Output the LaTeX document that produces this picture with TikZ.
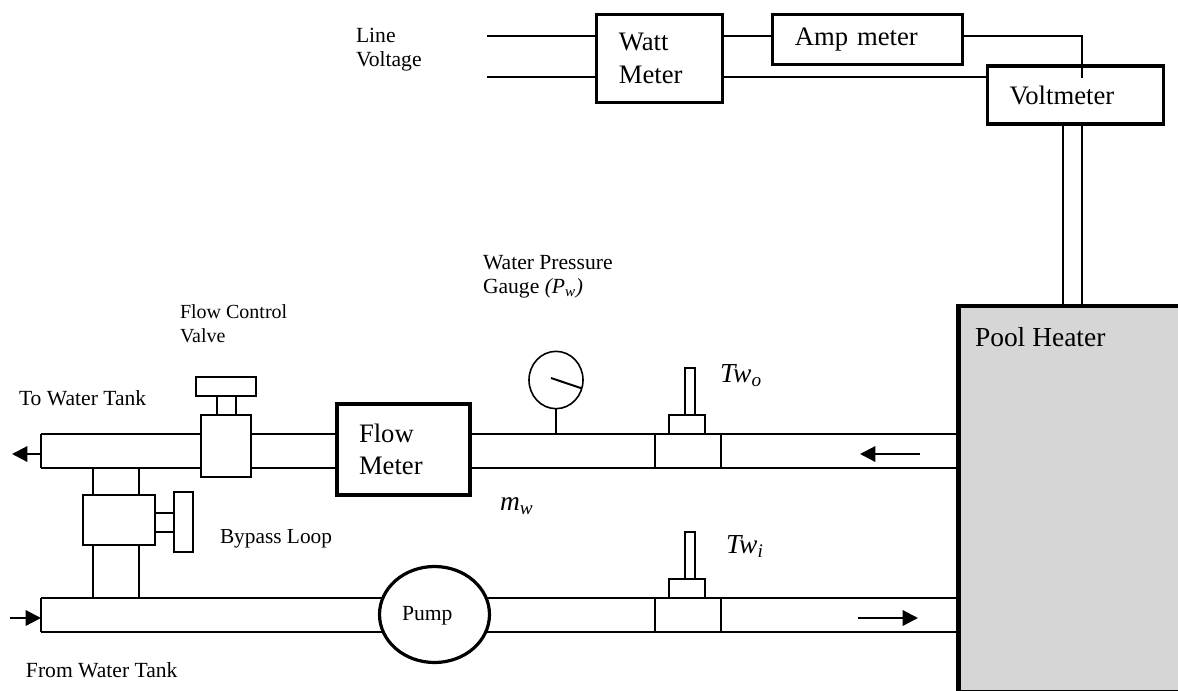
\documentclass[tikz,border=0pt]{standalone}
\usepackage{fontspec}
\setmainfont{Liberation Serif}
\usetikzlibrary{arrows.meta,shapes.geometric}
\begin{document}
\begin{tikzpicture}[x=0.75pt,y=-0.75pt,
        every node/.style={inner sep=0pt,outer sep=0pt},
        pipe/.style={line width=1.2pt},
        part/.style={draw,line width=1.2pt,fill=white},
        meter/.style={draw,line width=2.4pt,fill=white,font=\fontsize{20}{24.5}\selectfont,align=left,inner xsep=16.5pt},
        tag/.style={anchor=base west,align=left,font=\fontsize{16.2}{18}\selectfont},
        smalltag/.style={anchor=base west,align=left,font=\fontsize{15}{18}\selectfont},
        bigtag/.style={anchor=base west,font=\fontsize{20.6}{24}\selectfont},
        flow/.style={line width=1.7pt,-{Triangle[length=11.5pt,width=11.5pt]}}]
        \useasboundingbox (0,0) rectangle (1178,690);
        \node[draw,line width=3.6pt,fill=black!16,minimum width=174pt,minimum height=290pt,anchor=north west] (heater) at (958.5,306) {};
        \node[bigtag] (heatername) at (975,346) {Pool Heater};
        \node[meter,text width=61pt,minimum height=66.5pt] (watt) at (659.5,58.5) {Watt\\Meter};
        \node[meter,text width=109pt,minimum height=38pt] (amp) at (867.5,39.5) {Amp meter};
        \node[meter,text width=99pt,minimum height=43.5pt] (volt) at (1075.5,95) {Voltmeter};
        \coordinate (linea) at (487,36);
        \coordinate (lineb) at (487,77);
        \coordinate (voltin) at (1082,78);
        \coordinate (ventl) at (1063,306);
        \coordinate (ventr) at (1082,306);
        \draw[pipe] (linea) -- (linea -| watt.west);
        \draw[pipe] (lineb) -- (lineb -| watt.west);
        \draw[pipe] (linea -| watt.east) -- (linea -| amp.west);
        \draw[pipe] (lineb -| watt.east) -- (lineb -| volt.west);
        \draw[pipe] (linea -| amp.east) -- (linea -| voltin) -- (voltin);
        \draw[pipe] (ventl |- volt.south) -- (ventl);
        \draw[pipe] (ventr |- volt.south) -- (ventr);
        \node[tag] (linename) at (356,66) {Line\\Voltage};
        \node[tag] (gaugename) at (483,293) {Water Pressure\\Gauge \textit{(P\textsubscript{w})}};
        \node[smalltag] (valvename) at (180,342) {Flow Control\\Valve};
        \node[tag] (totank) at (19,405) {To Water Tank};
        \node[tag] (fromtank) at (26,677) {From Water Tank};
        \node[smalltag,font=\fontsize{16}{18}\selectfont] (bypassname) at (220,543) {Bypass Loop};
        \node[bigtag] (mw) at (500,510) {\textit{m\textsubscript{w}}};
        \node[bigtag] (two) at (720,382) {\textit{Tw\textsubscript{o}}};
        \node[bigtag] (twi) at (726,553) {\textit{Tw\textsubscript{i}}};
        \coordinate (outtop) at (41,434);
        \coordinate (outbot) at (41,468);
        \coordinate (intop) at (41,598);
        \coordinate (inbot) at (41,632);
        \node[part,minimum width=37.5pt,minimum height=46.5pt] (valve) at (226,446) {};
        \node[part,minimum width=14.25pt,minimum height=14.25pt] (valvestem) at (226.5,405.5) {};
        \node[part,minimum width=45pt,minimum height=14.25pt] (valvehandle) at (226,386.5) {};
        \node[meter,text width=66.75pt,minimum height=68.25pt] (flowmeter) at (403.5,449.5) {Flow\\Meter};
        \node[part,minimum width=54pt,minimum height=37.5pt] (bypass) at (119,520) {};
        \node[part,minimum width=14.25pt,minimum height=14.25pt] (bypassstem) at (164.5,522.5) {};
        \node[part,minimum width=14.25pt,minimum height=45pt] (bypasshandle) at (183.5,522) {};
        \node[ellipse,draw,line width=2.4pt,fill=white,minimum width=82.5pt,minimum height=72pt] (pump) at (434.5,614.5) {};
        \node[tag] (pumpname) at (402,620) {Pump};
        \node[ellipse,part,minimum width=40.5pt,minimum height=43pt] (gauge) at (556,380) {};
        \node[part,minimum width=49.5pt,minimum height=25.5pt] (bandout) at (688,451) {};
        \node[part,minimum width=27pt,minimum height=14.25pt] (seatout) at (687,424.5) {};
        \node[part,minimum width=7.5pt,minimum height=35.25pt] (probeout) at (690,391.5) {};
        \node[part,minimum width=49.5pt,minimum height=25.5pt] (bandin) at (688,615) {};
        \node[part,minimum width=27pt,minimum height=14.25pt] (seatin) at (687,588.5) {};
        \node[part,minimum width=7.5pt,minimum height=35.25pt] (probein) at (690,555.5) {};
        \coordinate (needle) at (551,378);
        \coordinate (bypassl) at (93,468);
        \coordinate (bypassr) at (139,468);
        \draw[pipe] (outtop) -- (outbot);
        \draw[pipe] (intop) -- (inbot);
        \draw[pipe] (outtop) -- (outtop -| valve.west);
        \draw[pipe] (outbot) -- (outbot -| valve.west);
        \draw[pipe] (outtop -| valve.east) -- (outtop -| flowmeter.west);
        \draw[pipe] (outbot -| valve.east) -- (outbot -| flowmeter.west);
        \draw[pipe] (outtop -| flowmeter.east) -- (outtop -| bandout.west);
        \draw[pipe] (outbot -| flowmeter.east) -- (outbot -| bandout.west);
        \draw[pipe] (outtop -| bandout.east) -- (outtop -| heater.west);
        \draw[pipe] (outbot -| bandout.east) -- (outbot -| heater.west);
        \draw[pipe] (intop) -- (intop -| pump.162);
        \draw[pipe] (inbot) -- (inbot -| pump.198);
        \draw[pipe] (intop -| pump.18) -- (intop -| bandin.west);
        \draw[pipe] (inbot -| pump.-18) -- (inbot -| bandin.west);
        \draw[pipe] (intop -| bandin.east) -- (intop -| heater.west);
        \draw[pipe] (inbot -| bandin.east) -- (inbot -| heater.west);
        \draw[pipe] (bypassl) -- (bypassl |- bypass.north);
        \draw[pipe] (bypassr) -- (bypassr |- bypass.north);
        \draw[pipe] (bypassl |- bypass.south) -- (bypassl |- intop);
        \draw[pipe] (bypassr |- bypass.south) -- (bypassr |- intop);
        \draw[pipe] (gauge.south) -- (gauge.south |- outtop);
        \draw[line width=1.5pt] (needle) -- (gauge.-18);
        \coordinate (outarrow) at (41,454);
        \coordinate (outtip) at (12,454);
        \coordinate (inarrow) at (10,618);
        \coordinate (intip) at (41,618);
        \coordinate (backtail) at (920,454);
        \coordinate (backtip) at (860,454);
        \coordinate (foretail) at (858,618);
        \coordinate (foretip) at (918,618);
        \draw[flow] (outarrow) -- (outtip);
        \draw[flow] (inarrow) -- (intip);
        \draw[flow] (backtail) -- (backtip);
        \draw[flow] (foretail) -- (foretip);
\end{tikzpicture}
\end{document}
